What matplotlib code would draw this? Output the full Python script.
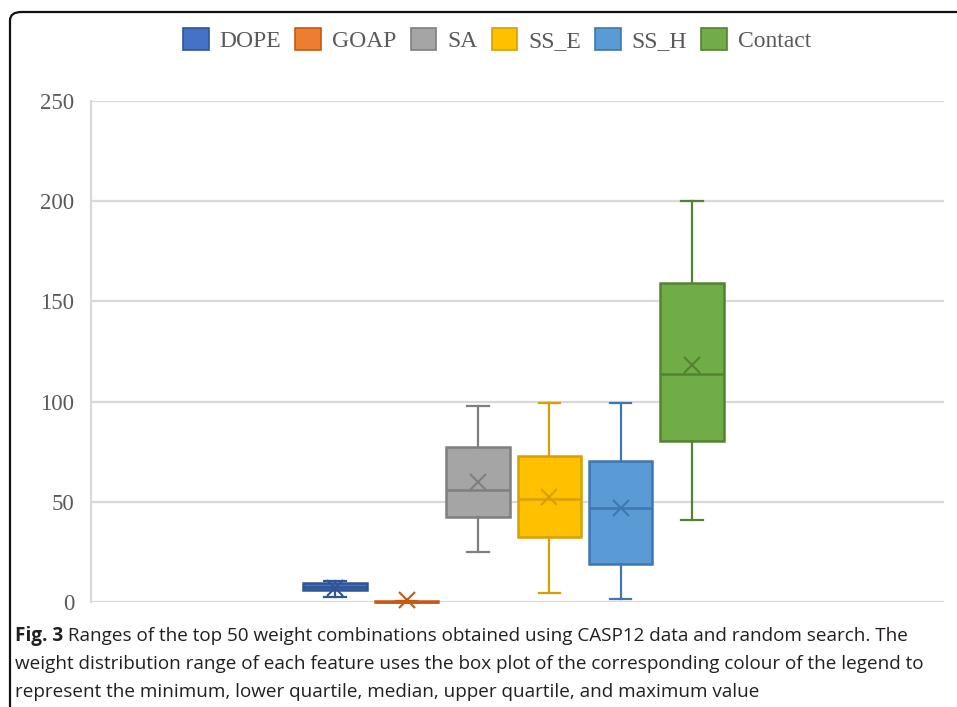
#!/usr/bin/env python3

import matplotlib
matplotlib.use("Agg")
import matplotlib.pyplot as plt
from matplotlib.patches import FancyBboxPatch, Patch

# box plot summary values
features = ["DOPE", "GOAP", "SA", "SS_E", "SS_H", "Contact"]
mins = [2.5, 0.0, 25.0, 4.5, 1.5, 41.0]
q1s = [6.0, 0.0, 42.5, 32.5, 19.0, 80.5]
medians = [7.5, 0.0, 56.0, 51.5, 47.0, 114.0]
q3s = [9.5, 0.3, 77.5, 73.0, 70.5, 159.0]
maxs = [10.5, 0.5, 98.0, 99.5, 99.5, 200.0]
means = [7.0, 0.8, 60.0, 52.5, 47.0, 118.5]

y_ticks = [0, 50, 100, 150, 200, 250]

fills = ["#4472C4", "#ED7D31", "#A5A5A5", "#FFC000", "#5B9BD5", "#70AD47"]
edges = ["#2F5597", "#C55A11", "#7F7F7F", "#D6A100", "#3F77B0", "#548235"]

caption_bold = "Fig. 3"
caption_lines = [
    " Ranges of the top 50 weight combinations obtained using CASP12 data and random search. The",
    "weight distribution range of each feature uses the box plot of the corresponding colour of the legend to",
    "represent the minimum, lower quartile, median, upper quartile, and maximum value",
]

W, H = 957, 707
fig = plt.figure(figsize=(W / 100, H / 100), dpi=100)
ax = fig.add_axes([91 / W, 1 - 602 / H, (944 - 91) / W, (602 - 101) / H])

stats = []
for i, name in enumerate(features):
    stats.append(dict(label=name, whislo=mins[i], q1=q1s[i], med=medians[i],
                      q3=q3s[i], whishi=maxs[i], mean=means[i], fliers=[]))

positions = list(range(1, len(features) + 1))
for i, st in enumerate(stats):
    ec = edges[i]
    arts = ax.bxp([st], positions=[positions[i]], widths=0.89, patch_artist=True,
                  showmeans=True, showfliers=False,
                  boxprops=dict(facecolor=fills[i], edgecolor=ec, linewidth=1.8),
                  medianprops=dict(color=ec, linewidth=1.8),
                  whiskerprops=dict(color=ec, linewidth=1.6),
                  capprops=dict(color=ec, linewidth=1.6),
                  capwidths=0.3,
                  meanprops=dict(marker="x", markeredgecolor=ec, markersize=12,
                                 markeredgewidth=1.5),
                  zorder=3)
    for group in arts.values():
        for a in group:
            a.set_clip_on(False)

ax.set_xlim(-2.42, 9.53)
ax.set_ylim(0, 250)
ax.set_xticks([])
ax.set_yticks(y_ticks)
ax.set_yticklabels([str(t) for t in y_ticks], family="Liberation Serif",
                   fontsize=16.5, color="#595959")
ax.tick_params(axis="y", length=0, pad=12)
ax.grid(axis="y", color="#D9D9D9", linewidth=1.6, zorder=0)
ax.set_axisbelow(True)
for side in ["top", "right", "bottom"]:
    ax.spines[side].set_visible(False)
ax.spines["left"].set_color("#D9D9D9")
ax.spines["left"].set_linewidth(1.6)

handles = [Patch(facecolor=fills[i], edgecolor=edges[i], linewidth=1.2)
           for i in range(len(features))]
fig.legend(handles, features, loc="center", bbox_to_anchor=(497 / W, 1 - 40 / H),
           ncol=6, frameon=False, handlelength=1.1, handleheight=1.1,
           handletextpad=0.45, columnspacing=0.6,
           prop=dict(family="Liberation Serif", size=17), labelcolor="#595959")

# rounded frame around the figure
frame = FancyBboxPatch((10 / W, -0.2), 1.2, 1.2 - 12 / H,
                       boxstyle="round,pad=0,rounding_size=0.012",
                       transform=fig.transFigure, fill=False,
                       edgecolor="#111111", linewidth=1.6, clip_on=False)
fig.patches.append(frame)

# caption, with the bold figure number
cap_font = dict(family="Open Sans", size=13.6, color="#231F20")
renderer = fig.canvas.get_renderer()
y0 = 1 - 636 / H
t = fig.text(15 / W, y0, caption_bold, fontweight="bold", va="center", **cap_font)
bb = t.get_window_extent(renderer)
fig.text(bb.x1 / W, y0, caption_lines[0], va="center", **cap_font)
fig.text(15 / W, 1 - 664 / H, caption_lines[1], va="center", **cap_font)
fig.text(15 / W, 1 - 692 / H, caption_lines[2], va="center", **cap_font)

fig.savefig("out.png", dpi=100)
